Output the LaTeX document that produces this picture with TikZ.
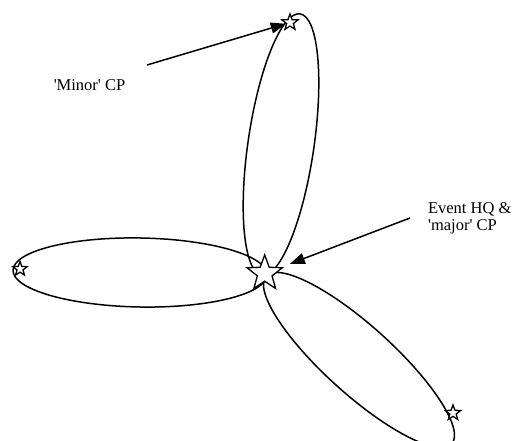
\documentclass[tikz,border=0pt]{standalone}
\usepackage{fontspec}
\setmainfont{Liberation Serif}
\usetikzlibrary{shapes.geometric,arrows.meta}
\begin{document}
\begin{tikzpicture}[x=1pt, y=1pt, line width=1.5pt,
    cp/.style={star, star points=5, star point ratio=2.4, draw, fill=white, inner sep=0pt, line width=1.3pt},
    pointer/.style={-{Triangle[length=15pt, width=11pt]}},
    lbl/.style={font=\fontsize{16.5}{17}\selectfont, inner sep=0pt, align=left}]
    \useasboundingbox (0, 0) rectangle (515, 441);
    \draw (281, 296.5) circle [x radius=132, y radius=33, rotate=81.7];
    \draw (140, 168.5) circle [x radius=127, y radius=34.5, rotate=-1];
    \draw (359, 81) circle [x radius=125, y radius=34, rotate=-42.1];
    \node [cp, minimum size=37pt] (hq) at (264.7, 167.5) {};
    \node [cp, minimum size=17pt] (north) at (290, 418.5) {};
    \node [cp, minimum size=15pt] (west) at (20, 172) {};
    \node [cp, minimum size=16pt] (south) at (453, 28) {};
    \node [lbl, anchor=base west] (minorlbl) at (53, 350.3) {\textquotesingle Minor\textquotesingle{} CP};
    \node [lbl, anchor=north west] (hqlbl) at (427.3, 239.5) {Event HQ \&\\\textquotesingle major\textquotesingle{} CP};
    \coordinate (minortail) at (147, 376);
    \coordinate (hqtail) at (410, 223);
    \draw [pointer] (minortail) -- (north);
    \draw [pointer, shorten >=9pt] (hqtail) -- (hq);
\end{tikzpicture}
\end{document}
